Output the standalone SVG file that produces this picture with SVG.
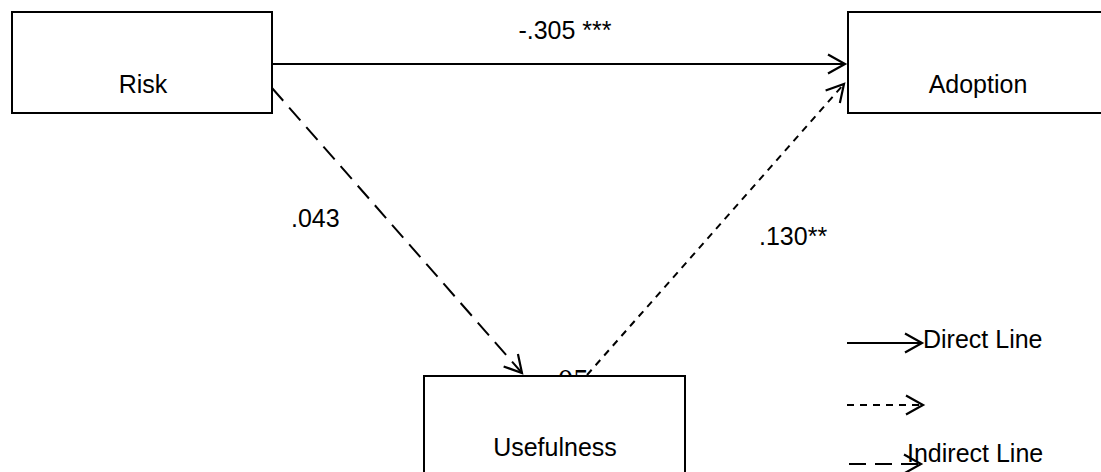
<svg xmlns="http://www.w3.org/2000/svg" width="1101" height="472" viewBox="0 0 1101 472">
  <style>
    .box { fill: #ffffff; stroke: #000000; stroke-width: 2; }
    .lbl { font-family: "Liberation Sans", Arial, sans-serif; font-size: 25px; fill: #000000; }
    .line { fill: none; stroke: #000000; stroke-width: 2; }
    .longdash { stroke-dasharray: 17 9; }
    .shortdash { stroke-dasharray: 7 6; }
  </style>
  <defs>
    <marker id="open-arrow" markerUnits="userSpaceOnUse" viewBox="0 0 22 22" markerWidth="22" markerHeight="22" refX="19" refY="11" orient="auto">
      <path d="M2,1.5 L19,11 L2,20.5" fill="none" stroke="#000000" stroke-width="2.2"/>
    </marker>
  </defs>

  <rect width="1101" height="472" fill="#ffffff"/>

  <!-- path coefficients -->
  <g id="coefficients">
    <text class="lbl" x="565" y="39" text-anchor="middle">-.305 ***</text>
    <text class="lbl" x="291" y="227">.043</text>
    <text class="lbl" x="759" y="245">.130**</text>
    <text x="550" y="391" style="font-family: 'Liberation Serif', serif; font-size: 31px;">.05</text>
  </g>

  <!-- connectors -->
  <g id="connectors">
    <line class="line" x1="272" y1="64" x2="845" y2="64" marker-end="url(#open-arrow)"/>
    <line class="line longdash" x1="272" y1="88" x2="522" y2="373" marker-end="url(#open-arrow)"/>
    <line class="line shortdash" x1="587" y1="375" x2="844" y2="84" marker-end="url(#open-arrow)"/>
  </g>

  <g id="node-risk">
    <rect class="box" x="12" y="12" width="260" height="101"/>
    <text class="lbl" x="143" y="93" text-anchor="middle">Risk</text>
  </g>

  <g id="node-adoption">
    <rect class="box" x="848" y="12" width="280" height="101"/>
    <text class="lbl" x="978" y="93" text-anchor="middle">Adoption</text>
  </g>

  <g id="node-usefulness">
    <rect class="box" x="424" y="376" width="261" height="120"/>
    <text class="lbl" x="555" y="456" text-anchor="middle">Usefulness</text>
  </g>

  <!-- legend -->
  <g id="legend">
    <line class="line" x1="847" y1="343" x2="922" y2="343" marker-end="url(#open-arrow)"/>
    <text class="lbl" x="923" y="348">Direct Line</text>
    <line class="line shortdash" x1="847" y1="405" x2="923" y2="405" marker-end="url(#open-arrow)"/>
    <line class="line longdash" x1="849" y1="464" x2="921" y2="464" marker-end="url(#open-arrow)"/>
    <text class="lbl" x="907" y="462">Indirect Line</text>
  </g>
</svg>
